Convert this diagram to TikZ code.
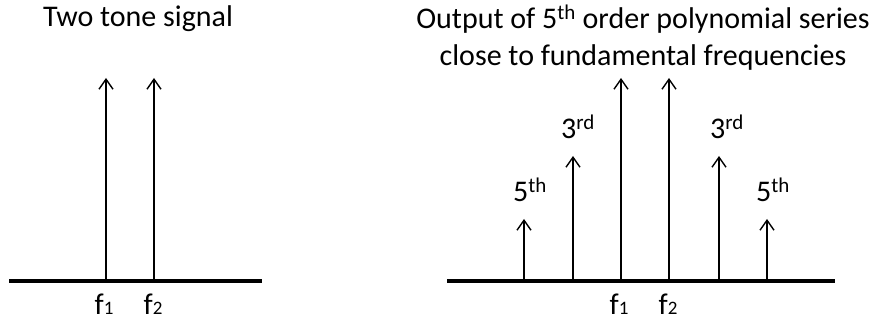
\documentclass[tikz,border=0pt]{standalone}
\usepackage{fontspec}
\setmainfont{Carlito}
\usetikzlibrary{arrows.meta}
\newcommand{\fsub}[1]{{\fontsize{19}{19}\selectfont #1}}
\begin{document}
\begin{tikzpicture}[x=1pt,y=-1pt,
  axisline/.style={line width=3.5pt},
  spike/.style={line width=1.4pt,-{Straight Barb[length=10pt,width=14pt,line width=1.4pt]}},
  lbl/.style={font=\fontsize{30}{37}\selectfont,inner sep=0pt},
  flbl/.style={font=\fontsize{30}{37}\selectfont,inner sep=0pt,anchor=base,text depth=0pt}]
\useasboundingbox (0,0) rectangle (878,320);
% left panel
\node[lbl] (t1) at (138,19) {Two tone signal};
\coordinate (la) at (9,281);
\coordinate (lb) at (262,281);
\draw[axisline] (la) -- (lb);
\coordinate (l1b) at (106,281); \coordinate (l1t) at (106,78);
\coordinate (l2b) at (154,281); \coordinate (l2t) at (154,78);
\draw[spike] (l1b) -- (l1t);
\draw[spike] (l2b) -- (l2t);
\node[flbl] (lf1) at (104,314) {f\fsub{1}};
\node[flbl] (lf2) at (153,314) {f\fsub{2}};
% right panel
\node[lbl,align=center] (t2) at (643,38) {Output of 5\textsuperscript{th} order polynomial series\\close to fundamental frequencies};
\coordinate (ra) at (447,281);
\coordinate (rb) at (835,281);
\draw[axisline] (ra) -- (rb);
\foreach \n/\x/\t in {a/524/219, b/573/156, c/621/78, d/669/78, e/719/156, f/767/219}{
  \coordinate (r\n b) at (\x,281);
  \coordinate (r\n t) at (\x,\t);
  \draw[spike] (r\n b) -- (r\n t);
}
\node[lbl] (h5l) at (530,190) {5\textsuperscript{th}};
\node[lbl] (h3l) at (578,127) {3\textsuperscript{rd}};
\node[lbl] (h3r) at (727,127) {3\textsuperscript{rd}};
\node[lbl] (h5r) at (773,190) {5\textsuperscript{th}};
\node[flbl] (rf1) at (619,314) {f\fsub{1}};
\node[flbl] (rf2) at (668,314) {f\fsub{2}};
\end{tikzpicture}
\end{document}
